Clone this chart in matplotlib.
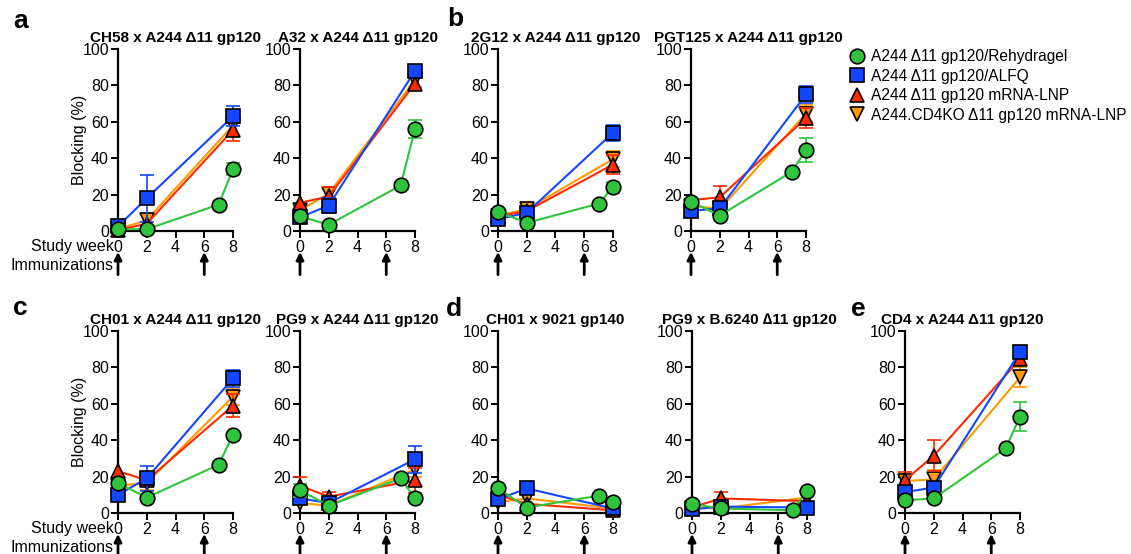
import matplotlib
matplotlib.use('Agg')
import matplotlib.pyplot as plt
from matplotlib.lines import Line2D

plt.rcParams['font.family'] = ['Liberation Sans', 'DejaVu Sans']

# data
titles = ['CH58 x A244 \u039411 gp120', 'A32 x A244 \u039411 gp120',
          '2G12 x A244 \u039411 gp120', 'PGT125 x A244 \u039411 gp120',
          'CH01 x A244 \u039411 gp120', 'PG9 x A244 \u039411 gp120',
          'CH01 x 9021 gp140', 'PG9 x B.6240 \u220611 gp120',
          'CD4 x A244 \u039411 gp120']
weeks = [0, 2, 8]
green_weeks = [0, 2, 7, 8]
group_names = ['A244 \u039411 gp120/Rehydragel', 'A244 \u039411 gp120/ALFQ',
               'A244 \u039411 gp120 mRNA-LNP', 'A244.CD4KO \u039411 gp120 mRNA-LNP']

green = [[1, 1, 14.5, 34], [8, 3.5, 25, 56], [10.5, 4.5, 15, 24], [16, 8.5, 32.5, 44.5],
         [16.5, 8.5, 26.5, 43], [12.5, 4, 19, 8], [13.5, 3, 9.5, 6], [5, 2.5, 1.5, 12],
         [7, 8, 35.5, 53]]
green_err = [[0, 0, 0, 3.5], [0, 0, 0, 5], [0, 0, 0, 3], [0, 0, 0, 6.5],
             [0, 0, 0, 0], [3.5, 0, 0, 0], [0, 0, 0, 0], [0, 0, 0, 0], [0, 0, 0, 8]]
blue = [[2.5, 18, 63], [7.5, 14, 88], [6.5, 10, 54], [11, 12.5, 75], [10, 19, 74],
        [8, 5.5, 29.5], [7.5, 13.5, 2.5], [2, 3.5, 3], [11.5, 14, 88.5]]
blue_err = [[0, 13, 5.5], [0, 4, 0], [0, 0, 4.5], [0, 0, 4.5], [0, 7, 4.5],
            [0, 0, 7.5], [0, 0, 0], [0, 0, 0], [0, 0, 2.5]]
red = [[0.5, 4, 55.5], [15.5, 19, 81], [8, 11, 36.5], [17, 18.5, 62], [23, 18, 59],
       [15, 9, 18], [10, 5, 1.5], [3, 8, 6.5], [18, 31.5, 84.5]]
red_err = [[0, 0, 6], [0, 5, 0], [0, 0, 5], [0, 6, 5.5], [0, 0, 6.5],
           [5, 2.5, 7], [0, 0, 0], [0, 3.5, 0], [4.5, 8.5, 0]]
orange = [[1, 6, 58], [11.5, 20.5, 83], [8.5, 12, 39.5], [14, 12, 64.5], [15, 16.5, 64],
          [5.5, 4, 24], [6, 8, 2.5], [3, 2.5, 8.5], [17.5, 18.5, 74.5]]
orange_err = [[0, 0, 0], [0, 0, 4], [0, 0, 4.5], [0, 0, 4.5], [0, 4, 4.5],
              [0, 0, 4], [0, 0, 0], [0, 0, 0], [0, 5, 5.5]]

c_green = '#2fc43c'
c_blue = '#1247ff'
c_red = '#ff2a00'
c_orange = '#ff9a00'

W, H = 1131, 554
fig = plt.figure(figsize=(W / 100, H / 100), dpi=100)

# axes positions in pixels: (left, top of plot area)
pos = [(118, 49), (300, 49), (498, 49), (691, 49),
       (118, 331), (300, 331), (498, 331), (692, 331), (905, 331)]
aw, ah = 115, 182


def draw(ax, x, y, err, color, marker, z):
    ax.plot(x, y, color=color, lw=1.5, marker=marker, ms=10.5, mfc=color,
            mec='black', mew=1.2, clip_on=False, zorder=z)
    xe = [a for a, e in zip(x, err) if e > 0]
    ye = [b for b, e in zip(y, err) if e > 0]
    ee = [e for e in err if e > 0]
    if ee:
        ax.errorbar(xe, ye, yerr=ee, fmt='none', ecolor=color, elinewidth=1.2,
                     capsize=5, capthick=1.2, clip_on=False, zorder=z - 0.5)


for i, (px, py) in enumerate(pos):
    ax = fig.add_axes([px / W, 1 - (py + ah) / H, aw / W, ah / H])
    draw(ax, weeks, orange[i], orange_err[i], c_orange, 'v', 3)
    draw(ax, weeks, red[i], red_err[i], c_red, '^', 4)
    draw(ax, weeks, blue[i], blue_err[i], c_blue, 's', 5)
    draw(ax, green_weeks, green[i], green_err[i], c_green, 'o', 6)

    ax.set_xlim(0, 8)
    ax.set_ylim(0, 100)
    ax.set_xticks([0, 2, 4, 6, 8])
    ax.set_yticks([0, 20, 40, 60, 80, 100])
    for s in ['top', 'right']:
        ax.spines[s].set_visible(False)
    for s in ['left', 'bottom']:
        ax.spines[s].set_linewidth(1.6)
    ax.tick_params(width=1.4, length=5, labelsize=11.5, pad=1.5)
    ax.set_title(titles[i], fontsize=11, fontweight='bold', pad=5)

    # immunization arrows at weeks 0 and 6
    for wk in [0, 6]:
        ax.annotate('', xy=(wk, -0.115), xytext=(wk, -0.24),
                    xycoords=ax.get_xaxis_transform(), annotation_clip=False,
                    arrowprops=dict(arrowstyle='-|>', lw=2, color='black',
                                    mutation_scale=11, shrinkA=0, shrinkB=0))

    if px == 118:
        ax.set_ylabel('Blocking (%)', fontsize=11.5)
        ax.yaxis.set_label_coords(-0.27, 0.5)
        fig.text(114 / W, 1 - (py + ah + 16) / H, 'Study week', ha='right',
                 va='center', fontsize=11.5)
        fig.text(114 / W, 1 - (py + ah + 34) / H, 'Immunizations', ha='right',
                 va='center', fontsize=11.5)

    if i == 3:
        handles = [Line2D([], [], ls='none', marker=m, ms=10.5, mfc=c, mec='black', mew=1.2)
                   for m, c in zip(['o', 's', '^', 'v'], [c_green, c_blue, c_red, c_orange])]
        fig.legend(handles, group_names, loc='upper left',
                   bbox_to_anchor=(849 / W, 1 - 49 / H), frameon=False,
                   fontsize=11.2, handlelength=1.0, handletextpad=0.4,
                   labelspacing=0.29, borderpad=0, borderaxespad=0)

# panel letters
for letter, lx, ly in [('a', 13, 28), ('b', 447, 26), ('c', 13, 315),
                       ('d', 446, 316), ('e', 851, 316)]:
    fig.text(lx / W, 1 - ly / H, letter, fontsize=19, fontweight='bold',
             ha='left', va='baseline')

fig.savefig('out.png', dpi=100)
